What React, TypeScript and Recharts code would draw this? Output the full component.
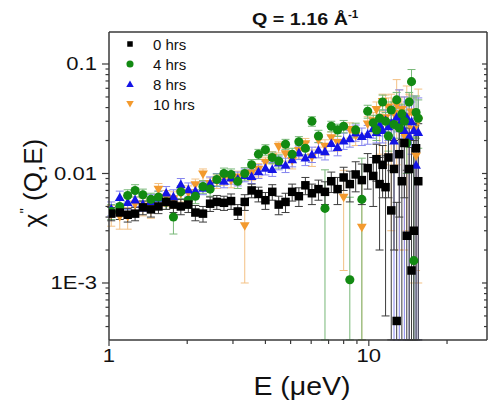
import { ScatterChart, Scatter, XAxis, YAxis, ErrorBar } from 'recharts';

// energy transfer grid (μeV)
const ENERGY = [
  1.02, 1.1, 1.18, 1.26, 1.35, 1.45, 1.55, 1.66, 1.77, 1.89,
  2.02, 2.15, 2.3, 2.45, 2.6, 2.77, 2.95, 3.13, 3.33, 3.54,
  3.76, 4.0, 4.25, 4.5, 4.78, 5.07, 5.38, 5.7, 6.04, 6.4,
  6.78, 7.17, 7.58, 8.0, 8.45, 8.9, 9.4, 9.9,
  10.4, 10.7, 11.0, 11.3, 11.6, 11.9, 12.2, 12.5, 12.8, 13.1,
  13.4, 13.7, 14.0, 14.3, 14.6, 14.9, 15.2, 15.5,
];

const HRS_0 = [
  0.0043, 0.0044, 0.0042, 0.0043, 0.0049, 0.0047, 0.005, 0.0055, 0.0052, 0.005,
  0.0052, 0.0044, 0.0043, 0.0053, 0.0055, 0.0054, 0.0056, 0.0045, 0.0055, 0.007,
  0.0065, 0.0057, 0.0068, 0.0052, 0.0055, 0.0068, 0.0062, 0.0078, 0.0066, 0.0072,
  0.0068, 0.0085, 0.0072, 0.0092, 0.008, 0.0098, 0.0087, 0.0112,
  0.0095, 0.0135, 0.008, 0.012, 0.0075, 0.014, 0.0046, 0.011, 0.00045, 0.015,
  0.0085, 0.019, 0.0027, 0.011, 0.0013, 0.003, 0.017, 0.0085,
];
const ERR_0 = [
  0.0006, 0.0006, 0.0006, 0.0006, 0.0007, 0.0007, 0.0007, 0.0008, 0.0008, 0.0008,
  0.0008, 0.0007, 0.0007, 0.0008, 0.0008, 0.0008, 0.0009, 0.0007, 0.0009, 0.001,
  0.001, 0.001, 0.0011, 0.001, 0.0011, 0.0012, 0.0012, 0.0014, 0.0014, 0.0015,
  0.0016, 0.0018, 0.002, 0.0022, 0.0025, 0.003, 0.0035, 0.004,
  0.0045, 0.005, 0.006, 0.006, 0.007, 0.008, 0.006, 0.009, 0.005, 0.011,
  0.012, 0.013, 0.008, 0.015, 0.016, 0.017, 0.02, 0.02,
];

const HRS_4 = [
  0.0045, 0.005, 0.0063, 0.007, 0.0064, 0.0058, 0.0061, 0.0055, 0.004, 0.0068,
  0.0057, 0.0062, 0.0076, 0.0072, 0.0088, 0.01, 0.0098, 0.0085, 0.01, 0.012,
  0.015, 0.0165, 0.014, 0.013, 0.0185, 0.015, 0.0195, 0.017, 0.03, 0.022,
  0.0048, 0.027, 0.025, 0.027, 0.00107, 0.025, 0.0058, 0.037,
  0.029, 0.025, 0.032, 0.045, 0.03, 0.022, 0.038, 0.028, 0.047, 0.026,
  0.035, 0.03, 0.019, 0.045, 0.069, 0.0016, 0.036, 0.032,
];
const ERR_4 = [
  0.0007, 0.0007, 0.0008, 0.0009, 0.0008, 0.0008, 0.0008, 0.0008, 0.0012, 0.0009,
  0.0009, 0.0009, 0.001, 0.001, 0.0011, 0.0012, 0.0012, 0.0012, 0.0013, 0.0014,
  0.0016, 0.0018, 0.0017, 0.0018, 0.002, 0.002, 0.0022, 0.0022, 0.003, 0.0028,
  0.006, 0.003, 0.0032, 0.0035, 0.005, 0.0038, 0.008, 0.005,
  0.005, 0.005, 0.006, 0.007, 0.006, 0.006, 0.007, 0.007, 0.008, 0.007,
  0.008, 0.008, 0.009, 0.01, 0.02, 0.02, 0.015, 0.015,
];

const HRS_8 = [
  0.0048, 0.0061, 0.0055, 0.0058, 0.0053, 0.0056, 0.006, 0.0067, 0.0062, 0.008,
  0.0072, 0.007, 0.0074, 0.0082, 0.0088, 0.0086, 0.0092, 0.009, 0.0097, 0.0095,
  0.0105, 0.0113, 0.011, 0.0126, 0.012, 0.0135, 0.0156, 0.014, 0.015, 0.0165,
  0.016, 0.019, 0.0175, 0.02, 0.021, 0.0237, 0.022, 0.023,
  0.026, 0.024, 0.028, 0.025, 0.031, 0.027, 0.029, 0.02, 0.033, 0.028,
  0.031, 0.025, 0.033, 0.022, 0.03, 0.025, 0.012, 0.024,
];
const ERR_8 = [
  0.0007, 0.0008, 0.0008, 0.0008, 0.0008, 0.0008, 0.0009, 0.0009, 0.0009, 0.001,
  0.001, 0.001, 0.001, 0.0011, 0.0012, 0.0012, 0.0012, 0.0013, 0.0013, 0.0014,
  0.0015, 0.0016, 0.0016, 0.0018, 0.0018, 0.002, 0.0022, 0.0022, 0.0024, 0.0026,
  0.0027, 0.003, 0.003, 0.0034, 0.0036, 0.004, 0.004, 0.0045,
  0.005, 0.005, 0.006, 0.006, 0.007, 0.007, 0.008, 0.02, 0.009, 0.03,
  0.01, 0.025, 0.012, 0.025, 0.015, 0.026, 0.02, 0.025,
];

const HRS_10 = [
  0.0042, 0.004, 0.004, 0.0052, 0.005, 0.0048, 0.0071, 0.006, 0.0058, 0.0065,
  0.0066, 0.0078, 0.0098, 0.008, 0.0085, 0.009, 0.0086, 0.0092, 0.0033, 0.01,
  0.0108, 0.0125, 0.014, 0.0174, 0.015, 0.013, 0.016, 0.0185, 0.014, 0.02,
  0.0175, 0.021, 0.019, 0.006, 0.025, 0.022, 0.0032, 0.028,
  0.03, 0.038, 0.025, 0.045, 0.032, 0.04, 0.028, 0.035, 0.042, 0.03,
  0.038, 0.022, 0.033, 0.028, 0.036, 0.025, 0.0143, 0.03,
];
const ERR_10 = [
  0.0009, 0.0009, 0.0009, 0.0009, 0.0009, 0.0009, 0.001, 0.001, 0.001, 0.001,
  0.0011, 0.0011, 0.0012, 0.0011, 0.0012, 0.0012, 0.0012, 0.0013, 0.0023, 0.0014,
  0.0015, 0.0016, 0.0018, 0.002, 0.002, 0.002, 0.0022, 0.0024, 0.0024, 0.0026,
  0.0028, 0.003, 0.003, 0.0047, 0.004, 0.004, 0.006, 0.005,
  0.006, 0.007, 0.01, 0.008, 0.02, 0.009, 0.025, 0.01, 0.03, 0.028,
  0.012, 0.02, 0.03, 0.025, 0.015, 0.024, 0.013, 0.029,
];

const X_DOMAIN = [1, 28.5];
const Y_DOMAIN = [0.0003015, 0.196];
const X_TICKS = [1, 2, 3, 4, 5, 6, 7, 8, 9, 10, 20];
const X_LABELS: Record<number, string> = { 1: '1', 10: '10' };
const Y_TICKS = [
  0.0004, 0.0005, 0.0006, 0.0007, 0.0008, 0.0009,
  0.001, 0.002, 0.003, 0.004, 0.005, 0.006, 0.007, 0.008, 0.009,
  0.01, 0.02, 0.03, 0.04, 0.05, 0.06, 0.07, 0.08, 0.09, 0.1,
];
const Y_LABELS: Record<number, string> = { 0.001: '1E-3', 0.01: '0.01', 0.1: '0.1' };

type Kind = 'square' | 'circle' | 'up' | 'down';

// drawn back to front: black ends up on top
const SERIES: { name: string; y: number[]; err: number[]; color: string; errColor: string; kind: Kind }[] = [
  { name: '10 hrs', y: HRS_10, err: ERR_10, color: '#f39a2e', errColor: '#f3c184', kind: 'down' },
  { name: '8 hrs', y: HRS_8, err: ERR_8, color: '#1414e6', errColor: '#8585ee', kind: 'up' },
  { name: '4 hrs', y: HRS_4, err: ERR_4, color: '#128a12', errColor: '#78b878', kind: 'circle' },
  { name: '0 hrs', y: HRS_0, err: ERR_0, color: '#000000', errColor: '#3c3c3c', kind: 'square' },
];
const LEGEND_ORDER = ['0 hrs', '4 hrs', '8 hrs', '10 hrs'];

const AXIS = '#3a3a3a';
const FONT = '"Liberation Sans", Arial, Helvetica, sans-serif';
const STRETCH = 'scale(1.16,1)';

function Marker({ kind, color, cx, cy, s }: { kind: Kind; color: string; cx: number; cy: number; s: number }) {
  if (kind === 'square') return <rect x={cx - s / 2} y={cy - s / 2} width={s} height={s} fill={color} />;
  if (kind === 'circle') return <circle cx={cx} cy={cy} r={s / 2 + 0.3} fill={color} />;
  const h = s * 0.95;
  const w = s * 1.15;
  if (kind === 'up')
    return <polygon points={`${cx},${cy - h / 2 - 0.5} ${cx - w / 2},${cy + h / 2} ${cx + w / 2},${cy + h / 2}`} fill={color} />;
  return <polygon points={`${cx},${cy + h / 2 + 0.5} ${cx - w / 2},${cy - h / 2} ${cx + w / 2},${cy - h / 2}`} fill={color} />;
}

function shapeFor(kind: Kind, color: string) {
  return (props: any) => {
    const { cx, cy } = props;
    if (cx == null || cy == null || !isFinite(cx) || !isFinite(cy)) return <g />;
    return <Marker kind={kind} color={color} cx={cx} cy={cy} s={8.5} />;
  };
}

function BottomTick({ x, y, payload }: any) {
  const label = X_LABELS[payload.value];
  return (
    <g>
      <line x1={x} x2={x} y1={y} y2={y + (label ? 6 : 4)} stroke={AXIS} strokeWidth={1.2} />
      {label && (
        <text transform={`translate(${x},${y + 22}) ${STRETCH}`} textAnchor="middle" fontSize={19} fontFamily={FONT} fill="#111">
          {label}
        </text>
      )}
    </g>
  );
}

function TopTick({ x, y, payload }: any) {
  const major = X_LABELS[payload.value];
  return <line x1={x} x2={x} y1={y} y2={y + (major ? 5 : 3)} stroke={AXIS} strokeWidth={1.2} />;
}

function LeftTick({ x, y, payload }: any) {
  const label = Y_LABELS[payload.value];
  return (
    <g>
      <line x1={x - (label ? 7 : 3.5)} x2={x} y1={y} y2={y} stroke={AXIS} strokeWidth={1.2} />
      {label && (
        <text transform={`translate(${x - 12},${y + 6.5}) ${STRETCH}`} textAnchor="end" fontSize={19} fontFamily={FONT} fill="#111">
          {label}
        </text>
      )}
    </g>
  );
}

function RightTick({ x, y, payload }: any) {
  const major = Y_LABELS[payload.value];
  return <line x1={x - (major ? 5 : 3)} x2={x} y1={y} y2={y} stroke={AXIS} strokeWidth={1.2} />;
}

export default function App() {
  // error bars that would run below the frame are stopped at its lower edge
  const floor = Y_DOMAIN[0] * 1.002;
  const datasets = SERIES.map((s) => ({
    ...s,
    data: ENERGY.map((e, i) => ({
      e,
      v: s.y[i],
      err: [Math.min(s.err[i], s.y[i] - floor), s.err[i]],
    })),
  }));
  const axisLine = { stroke: AXIS, strokeWidth: 1.5 };

  return (
    <div style={{ position: 'absolute', left: 0, top: 0, width: 488, height: 405, background: '#fff', fontFamily: FONT }}>
      <ScatterChart width={488} height={405} margin={{ top: 31, right: 0, bottom: 0, left: 9 }}>
        <XAxis
          xAxisId="b"
          dataKey="e"
          type="number"
          scale="log"
          domain={X_DOMAIN}
          allowDataOverflow
          ticks={X_TICKS}
          interval={0}
          tickSize={0}
          tickMargin={0}
          tickLine={false}
          axisLine={axisLine}
          tick={(p: any) => <BottomTick {...p} />}
          height={65}
        />
        <XAxis
          xAxisId="t"
          orientation="top"
          type="number"
          scale="log"
          domain={X_DOMAIN}
          allowDataOverflow
          ticks={X_TICKS}
          interval={0}
          tickSize={0}
          tickMargin={0}
          tickLine={false}
          axisLine={axisLine}
          tick={(p: any) => <TopTick {...p} />}
          height={1}
        />
        <YAxis
          yAxisId="l"
          dataKey="v"
          type="number"
          scale="log"
          domain={Y_DOMAIN}
          allowDataOverflow
          ticks={Y_TICKS}
          interval={0}
          tickSize={0}
          tickMargin={0}
          tickLine={false}
          axisLine={axisLine}
          tick={(p: any) => <LeftTick {...p} />}
          width={100}
        />
        <YAxis
          yAxisId="r"
          orientation="right"
          type="number"
          scale="log"
          domain={Y_DOMAIN}
          allowDataOverflow
          ticks={Y_TICKS}
          interval={0}
          tickSize={0}
          tickMargin={0}
          tickLine={false}
          axisLine={axisLine}
          tick={(p: any) => <RightTick {...p} />}
          width={1}
        />
        {datasets.map((s) => (
          <Scatter
            key={s.name}
            name={s.name}
            data={s.data}
            xAxisId="b"
            yAxisId="l"
            fill={s.color}
            shape={shapeFor(s.kind, s.color)}
            isAnimationActive={false}
          >
            <ErrorBar dataKey="err" direction="y" width={4} stroke={s.errColor} strokeWidth={1} isAnimationActive={false} />
          </Scatter>
        ))}
      </ScatterChart>

      <svg width={488} height={405} style={{ position: 'absolute', left: 0, top: 0, pointerEvents: 'none' }}>
        <text transform={`translate(252,25) ${STRETCH}`} fontSize={17} fontWeight="bold" fontFamily={FONT} fill="#111">
          Q = 1.16 Å
          <tspan fontSize={10} dy={-7}>-1</tspan>
        </text>
        <text transform={`translate(302,395) scale(1.14,1)`} textAnchor="middle" fontSize={25} fontFamily={FONT} fill="#111">
          E (μeV)
        </text>
        <text transform="translate(42,183) rotate(-90)" textAnchor="middle" fontSize={26} fontFamily={FONT} fill="#111">
          χ<tspan fontSize={15} dy={-12}>"</tspan>
          <tspan dy={12}> (Q,E)</tspan>
        </text>
        {LEGEND_ORDER.map((name, i) => {
          const s = SERIES.find((d) => d.name === name)!;
          const cy = 44 + i * 20;
          return (
            <g key={name}>
              <Marker kind={s.kind} color={s.color} cx={130} cy={cy} s={s.kind === 'square' ? 5.5 : 6.5} />
              <text x={153} y={cy + 5.5} fontSize={15} fontFamily={FONT} fill="#111">
                {name}
              </text>
            </g>
          );
        })}
      </svg>
    </div>
  );
}
